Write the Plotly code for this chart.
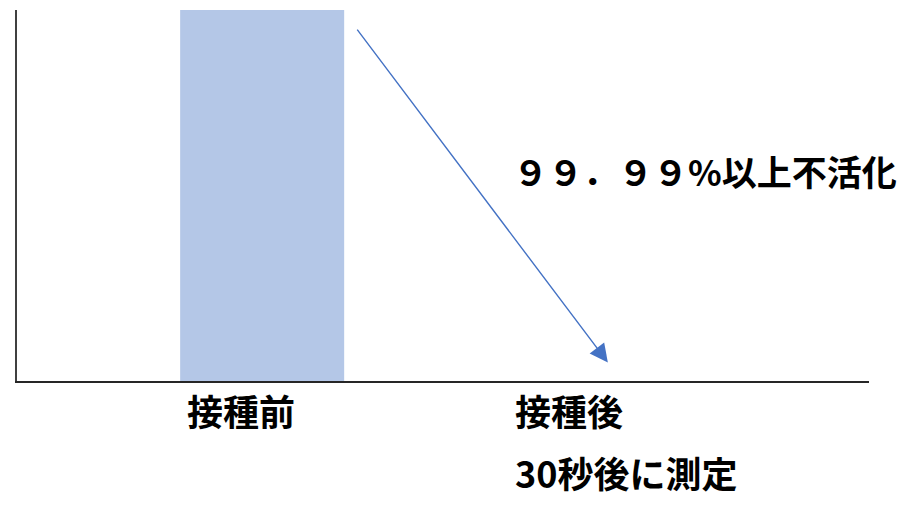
import plotly.graph_objects as go

# Data
categories = ["接種前", "接種後"]
values = [100, 0]
sub_label = "30秒後に測定"
note_text = "９９．９９%以上不活化"

fig = go.Figure()
fig.add_trace(go.Bar(
    x=categories, y=values,
    marker=dict(color="#B4C7E7", line=dict(width=0)),
    width=0.385, offset=-0.117,
    hoverinfo="skip",
))

label_font = dict(family="Noto Sans CJK JP", size=36, color="#000000")

fig.update_layout(
    width=914, height=499,
    margin=dict(l=9, r=53, t=2, b=126),
    paper_bgcolor="white", plot_bgcolor="white",
    showlegend=False,
    xaxis=dict(type="category", range=[-0.5, 1.5], showticklabels=False,
               ticks="", showgrid=False, zeroline=False,
               showline=True, linecolor="#262626", linewidth=2),
    yaxis=dict(range=[0, 100], showticklabels=False, ticks="",
               showgrid=False, zeroline=False,
               showline=True, linecolor="#404040", linewidth=2),
)

# Category labels (bold)
fig.add_annotation(x=categories[0], y=0, xref="x", yref="y",
                   text="<b>" + categories[0] + "</b>", showarrow=False,
                   xanchor="center", yanchor="top", xshift=11, yshift=-1,
                   font=label_font)
fig.add_annotation(x=categories[1], y=0, xref="x", yref="y",
                   text="<b>" + categories[1] + "</b>", showarrow=False,
                   xanchor="left", yanchor="top", xshift=-143, yshift=-1,
                   font=label_font)
fig.add_annotation(x=categories[1], y=0, xref="x", yref="y",
                   text="<b>" + sub_label + "</b>", showarrow=False,
                   xanchor="left", yanchor="top", xshift=-143, yshift=-63,
                   font=label_font)

# Arrow
fig.add_annotation(x=0.887, y=5.0, ax=0.296, ay=95.1,
                   xref="x", yref="y", axref="x", ayref="y",
                   text="", showarrow=True, arrowhead=2, arrowsize=2.6,
                   arrowwidth=1.4, arrowcolor="#4472C4")

# Note text
fig.add_annotation(x=categories[1], y=56.7, xref="x", yref="y",
                   text="<b>" + note_text + "</b>", showarrow=False,
                   xanchor="left", yanchor="middle", xshift=-145,
                   font=dict(family="Noto Sans CJK JP", size=35, color="#000000"))

fig.write_html("out.html")
